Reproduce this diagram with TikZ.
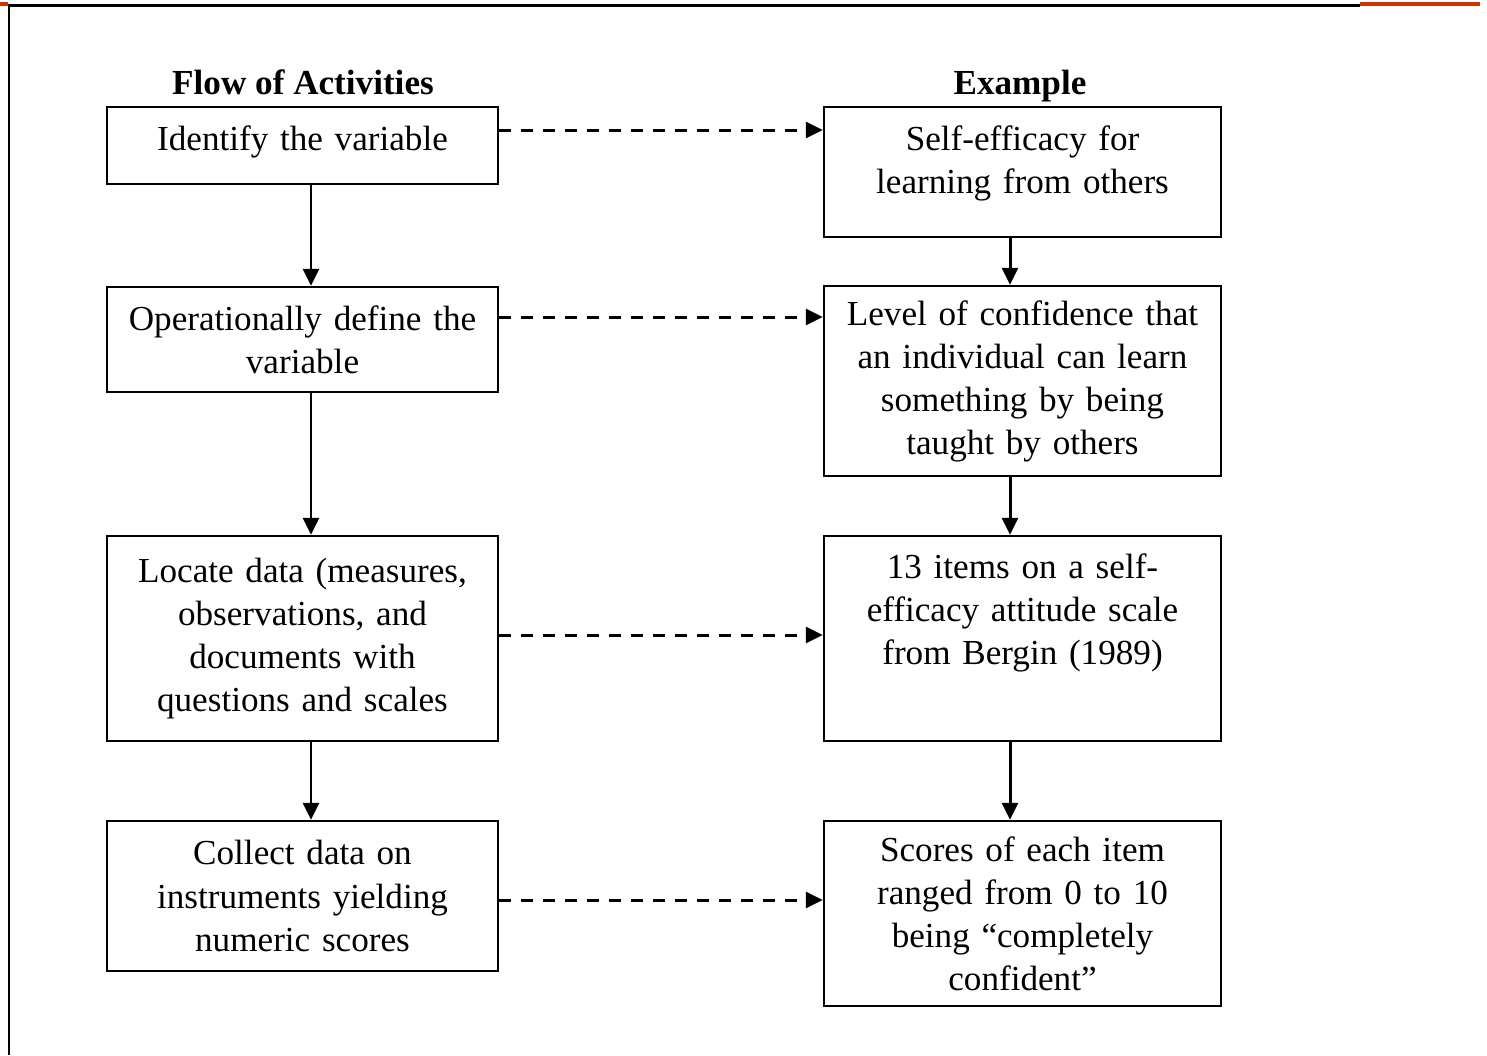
\documentclass[tikz,border=0pt]{standalone}
\usepackage{fontspec}
\setmainfont{Liberation Serif}
\usetikzlibrary{arrows.meta}
\definecolor{rust}{RGB}{204,51,0}
\tikzset{
	box/.style={draw, line width=1.4pt, align=center, inner sep=0pt, font=\fontsize{20}{24.5}\selectfont},
	flowbox/.style={box, minimum width=7.82cm, text width=7.6cm},
	examplebox/.style={box, minimum width=7.94cm, text width=7.7cm},
	head/.style={font=\fontsize{20}{24}\selectfont\bfseries, inner sep=0pt},
	flowarrow/.style={line width=1.7pt, -{Triangle[length=0.34cm, width=0.32cm]}},
	linkarrow/.style={flowarrow, dash pattern=on 0.24cm off 0.2cm}
}
\begin{document}
\begin{tikzpicture}[x=0.02cm, y=-0.02cm]
\useasboundingbox (0,0) rectangle (1487,1055);
% frame
\draw[line width=0.06cm] (9,5) -- (1360,5);
\draw[line width=0.06cm] (9,4) -- (9,1055);
\draw[rust, line width=0.08cm] (0,4) -- (8,4);
\draw[rust, line width=0.08cm] (1360,4) -- (1480,4);
% headings
\node[head] (flowhead) at (303,82) {Flow of Activities};
\node[head] (exhead) at (1020,86) {Example};
% flow of activities
\node[flowbox, minimum height=1.54cm] (ident) at (302.5,145.5) {Identify the variable\\[-0.55cm]\mbox{}};
\node[flowbox, minimum height=2.1cm] (oper) at (302.5,339.5) {Operationally define the\\variable};
\node[flowbox, minimum height=4.1cm] (locate) at (302.5,638.5) {Locate data (measures,\\observations, and\\documents with\\questions and scales};
\node[flowbox, minimum height=3cm] (collect) at (302.5,896) {Collect data on\\instruments yielding\\numeric scores};
% example
\node[examplebox, minimum height=2.6cm] (selfeff) at (1022.5,172) {Self-efficacy for\\learning from others\\[-0.36cm]\mbox{}};
\node[examplebox, minimum height=3.8cm] (level) at (1022.5,381) {Level of confidence that\\an individual can learn\\something by being\\taught by others};
\node[examplebox, minimum height=4.1cm] (items) at (1022.5,638.5) {13 items on a self-\\efficacy attitude scale\\from Bergin (1989)\\[0.32cm]\mbox{}};
\node[examplebox, minimum height=3.7cm] (scores) at (1022.5,913.5) {Scores of each item\\ranged from 0 to 10\\being ``completely\\confident''};
% arrows down
\draw[flowarrow] ([xshift=.17cm]ident.south) -- ([xshift=.17cm]oper.north);
\draw[flowarrow] ([xshift=.17cm]oper.south) -- ([xshift=.17cm]locate.north);
\draw[flowarrow] ([xshift=.17cm]locate.south) -- ([xshift=.17cm]collect.north);
\draw[flowarrow] ([xshift=-.25cm]selfeff.south) -- ([xshift=-.25cm]level.north);
\draw[flowarrow] ([xshift=-.25cm]level.south) -- ([xshift=-.25cm]items.north);
\draw[flowarrow] ([xshift=-.25cm]items.south) -- ([xshift=-.25cm]scores.north);
% dashed links
\draw[linkarrow] ([yshift=.31cm]ident.east) -- ([yshift=.31cm]ident.east -| selfeff.west);
\draw[linkarrow] ([yshift=.45cm]oper.east) -- ([yshift=.45cm]oper.east -| level.west);
\draw[linkarrow] ([yshift=.07cm]locate.east) -- ([yshift=.07cm]locate.east -| items.west);
\draw[linkarrow] ([yshift=-.08cm]collect.east) -- ([yshift=-.08cm]collect.east -| scores.west);
\end{tikzpicture}
\end{document}
